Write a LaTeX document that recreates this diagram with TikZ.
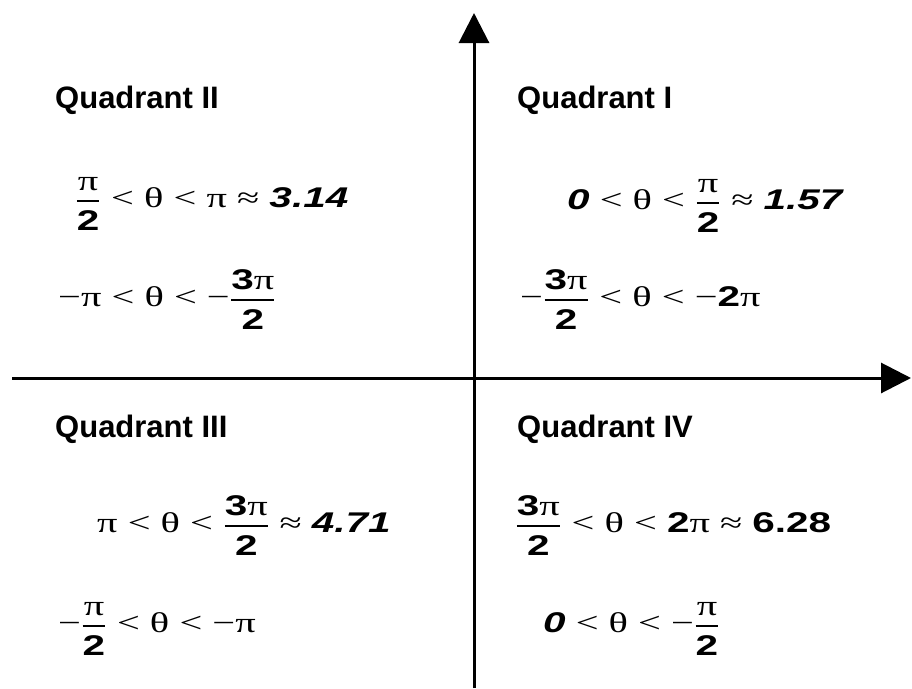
\documentclass[tikz,border=0pt]{standalone}
\usepackage{amsmath}
\usepackage{graphicx}
\usepackage{fontspec}
\setmainfont{Liberation Sans}
\newfontfamily\sym{Liberation Serif}
\usetikzlibrary{arrows.meta}
\newcommand\qbd[1]{{\rmfamily\bfseries #1}}
\newcommand\qbi[1]{{\rmfamily\bfseries\itshape #1}}
\newcommand\qfrac[2]{$\genfrac{}{}{1.6pt}{0}{\text{#1}}{\text{\raisebox{-6pt}{#2}}}$}
\newcommand\qwide[1]{\scalebox{1.42}[1]{#1}}
\tikzset{
  axis/.style={line width=3pt,-{Triangle[length=30pt,width=30pt]}},
  qlabel/.style={anchor=base west,inner sep=0pt,font=\fontsize{31}{34}\selectfont\bfseries},
  qmath/.style={anchor=base west,inner sep=0pt,font=\fontsize{28.5}{32}\sym}
}
\begin{document}
\begin{tikzpicture}[x=1pt,y=-1pt]
\useasboundingbox (0,0) rectangle (912,688);
\fill[white] (0,0) rectangle (912,688);
\coordinate (ybot) at (474,688);
\coordinate (ytop) at (474,13);
\coordinate (xleft) at (12,378);
\coordinate (xright) at (911,378);
\draw[axis] (ybot) -- (ytop);
\draw[axis] (xleft) -- (xright);

\node[qlabel] (q2) at (55,108) {Quadrant II};
\node[qlabel] (q1) at (517,108) {Quadrant I};
\node[qlabel] (q3) at (55,437) {Quadrant III};
\node[qlabel] (q4) at (517,437) {Quadrant IV};

\node[qmath] (q2a) at (75,207) {\qwide{\qfrac{π}{\qbd{2}} < θ < π ≈ \qbi{3.14}}};
\node[qmath] (q2b) at (58,306) {\qwide{−π < θ < −\qfrac{\qbd{3}π}{\qbd{2}}}};
\node[qmath] (q1a) at (567,209) {\qwide{\qbi{0} < θ < \qfrac{π}{\qbd{2}} ≈ \qbi{1.57}}};
\node[qmath] (q1b) at (520,306) {\qwide{−\qfrac{\qbd{3}π}{\qbd{2}} < θ < −\qbd{2}π}};
\node[qmath] (q3a) at (97,532) {\qwide{π < θ < \qfrac{\qbd{3}π}{\qbd{2}} ≈ \qbi{4.71}}};
\node[qmath] (q3b) at (58,632) {\qwide{−\qfrac{π}{\qbd{2}} < θ < −π}};
\node[qmath] (q4a) at (515,532) {\qwide{\qfrac{\qbd{3}π}{\qbd{2}} < θ < \qbd{2}π ≈ \qbd{6.28}}};
\node[qmath] (q4b) at (543,632) {\qwide{\qbi{0} < θ < −\qfrac{π}{\qbd{2}}}};
\end{tikzpicture}
\end{document}
